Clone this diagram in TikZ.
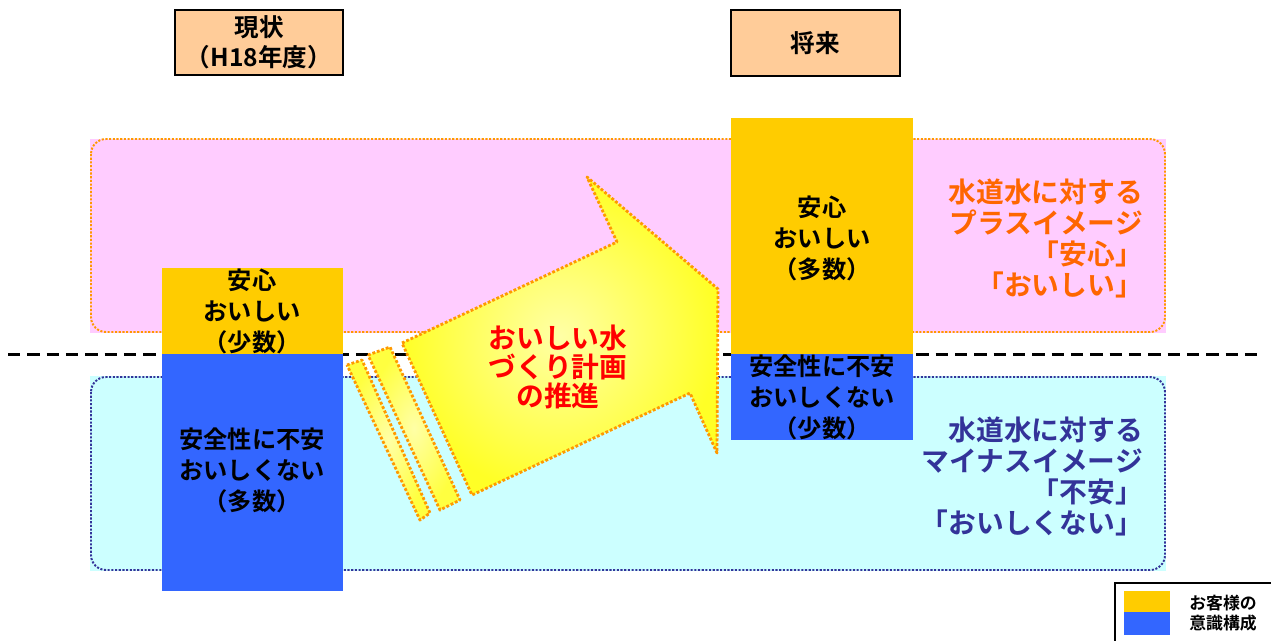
\documentclass[tikz,border=0pt]{standalone}
\usepackage{fontspec}
\newfontfamily\jp{Noto Sans CJK JP}[BoldFont={Noto Sans CJK JP Bold}]
\definecolor{peach}{HTML}{FFCC99}
\definecolor{pinkbg}{HTML}{FFCCFF}
\definecolor{cyanbg}{HTML}{CCFFFF}
\definecolor{orangeln}{HTML}{FF9900}
\definecolor{navyln}{HTML}{333399}
\definecolor{barY}{HTML}{FFCC00}
\definecolor{barB}{HTML}{3366FF}
\definecolor{plustext}{HTML}{FF6600}
\definecolor{arrowred}{HTML}{FF0000}
\tikzset{
  hdr/.style={draw=black, line width=0.8pt, fill=peach},
  bartext/.style={font=\jp\bfseries\fontsize{13.8}{17.6}\selectfont, align=center, text=black},
  sidetext/.style={font=\jp\bfseries\fontsize{15.8}{17.6}\selectfont, align=right, anchor=north east},
  dotline/.style={line width=1.1pt, dash pattern=on 1.2pt off 0.9pt},
  arrline/.style={draw=orangeln, line width=1.6pt, dash pattern=on 1.6pt off 1.1pt, line join=round},
}
\begin{document}
\begin{tikzpicture}[x=0.02cm,y=-0.02cm]
\useasboundingbox (0,0) rectangle (1271,640);
% background panels
\fill[pinkbg] (90,139) rectangle (1166,333);
\draw[orangeln, dotline, rounded corners=0.3cm] (91,139) rectangle (1165,332);
\fill[cyanbg] (90,376) rectangle (1166,571);
\draw[navyln, dotline, rounded corners=0.3cm] (91,377) rectangle (1165,570);
% dashed divider
\coordinate (dl) at (8,354);
\coordinate (dr) at (1260,354);
\draw[black, line width=1.7pt, dash pattern=on 7pt off 4pt] (dl) -- (dr);
% headers
\node[hdr, minimum width=168*0.02cm, minimum height=65*0.02cm, bartext, font=\jp\bfseries\fontsize{14}{17}\selectfont] (h1) at (259,42.5) {現状\\（H18年度）};
\node[hdr, minimum width=169*0.02cm, minimum height=66*0.02cm, bartext, font=\jp\bfseries\fontsize{14}{17}\selectfont] (h2) at (815.5,43) {将来};
% left bars
\fill[barY] (162,268) rectangle (343,354);
\fill[barB] (162,354) rectangle (343,591);
\node[bartext] (ly) at (252,311) {安心\\おいしい\\（少数）};
\node[bartext] (lb) at (252,470) {安全性に不安\\おいしくない\\（多数）};
% right bars
\fill[barY] (731,118) rectangle (913,354);
\fill[barB] (731,354) rectangle (913,440);
\node[bartext] (ry) at (822,238) {安心\\おいしい\\（多数）};
\node[bartext] (rb) at (822,397) {安全性に不安\\おいしくない\\（少数）};
% arrow
\shade[inner color=yellow!35, outer color=yellow!85!white, arrline]
  (402,343) -- (617,242) -- (587,177) -- (718,289) -- (717,453) -- (690,393) -- (472,495) -- cycle;
\shade[inner color=yellow!35, outer color=yellow!75!white, arrline]
  (368,355) -- (390,347) -- (460,500) -- (440,510) -- cycle;
\shade[inner color=yellow!35, outer color=yellow!75!white, arrline]
  (347,365) -- (362,360) -- (430,513) -- (420,520) -- cycle;
\node[font=\jp\bfseries\fontsize{15.8}{16.6}\selectfont, text=arrowred, align=center] (at) at (558,367) {おいしい水\\づくり計画\\の推進};
% side texts
\node[sidetext, text=plustext] (pt) at (1149,173) {水道水に対する\\プラスイメージ\\「安心」\\「おいしい」};
\node[sidetext, text=navyln] (mt) at (1149,411) {水道水に対する\\マイナスイメージ\\「不安」\\「おいしくない」};
% legend
\draw[black, line width=0.9pt] (1115,583) rectangle (1280,650);
\fill[barY] (1124,591) rectangle (1170,612);
\fill[barB] (1124,612) rectangle (1170,635);
\node[font=\jp\bfseries\fontsize{9.6}{11.3}\selectfont, align=center] (lg) at (1223,613) {お客様の\\意識構成};
\end{tikzpicture}
\end{document}
